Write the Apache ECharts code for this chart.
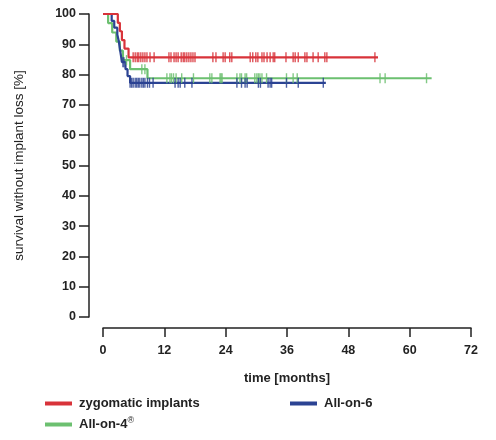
<!DOCTYPE html>
<html><head><meta charset="utf-8">
<script src="https://cdn.jsdelivr.net/npm/echarts@6/dist/echarts.min.js"></script>
<style>html,body{margin:0;padding:0;background:#fff}#c{width:496px;height:440px}</style>
</head><body><div id="c"></div>
<script>
const xTicks = [0, 12, 24, 36, 48, 60, 72];
const yTicks = [0, 10, 20, 30, 40, 50, 60, 70, 80, 90, 100];
const seriesNames = ['zygomatic implants', 'All-on-6', 'All-on-4®'];

// Kaplan-Meier steps: [time (months), survival after event (%)]
const zygoSteps = [[0,100],[2.9,97.1],[3.3,94.3],[3.7,91.4],[4.2,88.6],[5.0,85.7]];
const zygoEnd = 53.8;
const zygoCensor = [5.9,6.3,6.7,7.0,7.4,7.8,8.2,8.6,9.2,10.0,12.9,13.3,13.9,14.3,14.7,15.3,15.7,16.0,16.4,16.8,17.2,17.6,18.0,21.5,22.1,23.5,23.9,24.8,25.2,28.8,29.3,29.9,30.3,31.1,31.5,32.1,32.7,33.3,33.6,35.8,37.2,37.6,38.2,39.5,39.9,41.1,42.1,43.4,43.8,53.2];

const ao6Steps = [[0,100],[1.7,97.7],[2.2,95.5],[2.8,93.2],[3.1,90.9],[3.3,88.6],[3.5,86.4],[3.7,84.1],[4.4,81.8],[4.8,79.5],[5.3,77.3]];
const ao6End = 43.6;
const ao6Censor = [3.9,4.1,5.3,5.6,5.9,6.3,6.6,6.9,7.2,7.6,7.9,8.2,8.7,9.1,9.8,14.1,14.7,15.1,16.0,17.4,26.2,27.1,27.8,28.2,30.4,30.8,32.3,32.7,33.0,35.9,38.2,43.1];

const ao4Steps = [[0,100],[1.0,97.0],[1.8,93.9],[2.6,90.9],[3.3,87.9],[3.9,84.8],[5.3,81.8],[8.7,78.8]];
const ao4End = 64.3;
const ao4Censor = [4.6,7.6,8.2,12.5,13.1,13.4,13.8,14.3,15.4,17.7,20.9,21.3,22.9,23.1,23.3,26.2,26.8,27.1,27.8,28.1,29.7,30.1,30.4,30.7,31.1,32.0,35.9,37.2,38.0,54.2,55.2,63.3];

const colors = ['#d8333a', '#2b4393', '#6cc070'];

function levelAt(steps, t) {
  let v = steps[0][1];
  for (const s of steps) { if (s[0] <= t) v = s[1]; }
  return v;
}
function lineData(steps, end) {
  return steps.concat([[end, steps[steps.length - 1][1]]]);
}
function censorData(steps, times) {
  return times.map(t => [t, levelAt(steps, t)]);
}

const groups = [
  [seriesNames[0], zygoSteps, zygoEnd, zygoCensor, colors[0]],
  [seriesNames[1], ao6Steps, ao6End, ao6Censor, colors[1]],
  [seriesNames[2], ao4Steps, ao4End, ao4Censor, colors[2]]
];
const series = [];
[2, 1, 0].forEach(i => {
  const g = groups[i];
  series.push({
    name: g[0], type: 'line', step: 'end', data: lineData(g[1], g[2]),
    showSymbol: false, symbol: 'none', lineStyle: { color: g[4], width: 2.2 }, itemStyle: { color: g[4] },
    z: 3
  });
  series.push({
    name: g[0] + ' censored', type: 'scatter', data: censorData(g[1], g[3]),
    symbol: 'rect', symbolSize: [1.4, 10], itemStyle: { color: g[4], opacity: 0.85 }, z: 4, silent: true
  });
});

const legFont = { fontFamily: 'Liberation Sans, Arial, sans-serif', fontSize: 13, fontWeight: 'bold', color: '#222' };
function legend(name, left, top) {
  return {
    data: [name], left: left, top: top, orient: 'horizontal', icon: 'rect',
    itemWidth: 27, itemHeight: 4, itemGap: 0, padding: 0,
    textStyle: Object.assign({}, legFont, {
      padding: [0, 0, 0, 2],
      rich: {
        b: { fontFamily: 'Liberation Sans, Arial, sans-serif', fontSize: 13, fontWeight: 'bold', color: '#222' },
        s: { fontFamily: 'Liberation Sans, Arial, sans-serif', fontSize: 9, fontWeight: 'normal', color: '#222', padding: [0, 0, 8, 0] }
      }
    }),
    formatter: n => n === 'All-on-4®' ? '{b|All-on-4}{s|®}' : n,
    selectedMode: false
  };
}

const chart = echarts.init(document.getElementById('c'), null, { renderer: 'canvas' });
chart.setOption({
  animation: false,
  backgroundColor: '#fff',
  grid: { left: 103, right: 25, top: 14, bottom: 123, containLabel: false },
  legend: [
    legend(seriesNames[0], 45, 397),
    legend(seriesNames[1], 290, 397),
    legend(seriesNames[2], 45, 416)
  ],
  xAxis: {
    type: 'value', min: xTicks[0], max: xTicks[xTicks.length - 1], interval: 12,
    offset: 11,
    name: 'time [months]', nameLocation: 'middle', nameGap: 44,
    nameTextStyle: { fontFamily: 'Liberation Sans, Arial, sans-serif', fontSize: 13, fontWeight: 'bold', color: '#222' },
    axisLine: { show: true, onZero: false, lineStyle: { color: '#222', width: 1.5 } },
    axisTick: { show: true, length: 9, lineStyle: { color: '#222', width: 1.5 } },
    axisLabel: { margin: 16, fontFamily: 'Liberation Sans, Arial, sans-serif', fontSize: 12.5, fontWeight: 'bold', color: '#222',
      formatter: v => xTicks.includes(v) ? String(v) : '' },
    splitLine: { show: false }
  },
  yAxis: {
    type: 'value', min: yTicks[0], max: yTicks[yTicks.length - 1], interval: 10,
    offset: 14,
    name: 'survival without implant loss [%]', nameLocation: 'middle', nameGap: 63, nameRotate: 90,
    nameTextStyle: { fontFamily: 'Liberation Sans, Arial, sans-serif', fontSize: 13.5, fontWeight: 'normal', color: '#222' },
    axisLine: { show: true, onZero: false, lineStyle: { color: '#222', width: 1.5 } },
    axisTick: { show: true, length: 10, lineStyle: { color: '#222', width: 1.5 } },
    axisLabel: { margin: 13, fontFamily: 'Liberation Sans, Arial, sans-serif', fontSize: 12.5, fontWeight: 'bold', color: '#222',
      formatter: v => yTicks.includes(v) ? String(v) : '' },
    splitLine: { show: false }
  },
  series: series
});
</script></body></html>
